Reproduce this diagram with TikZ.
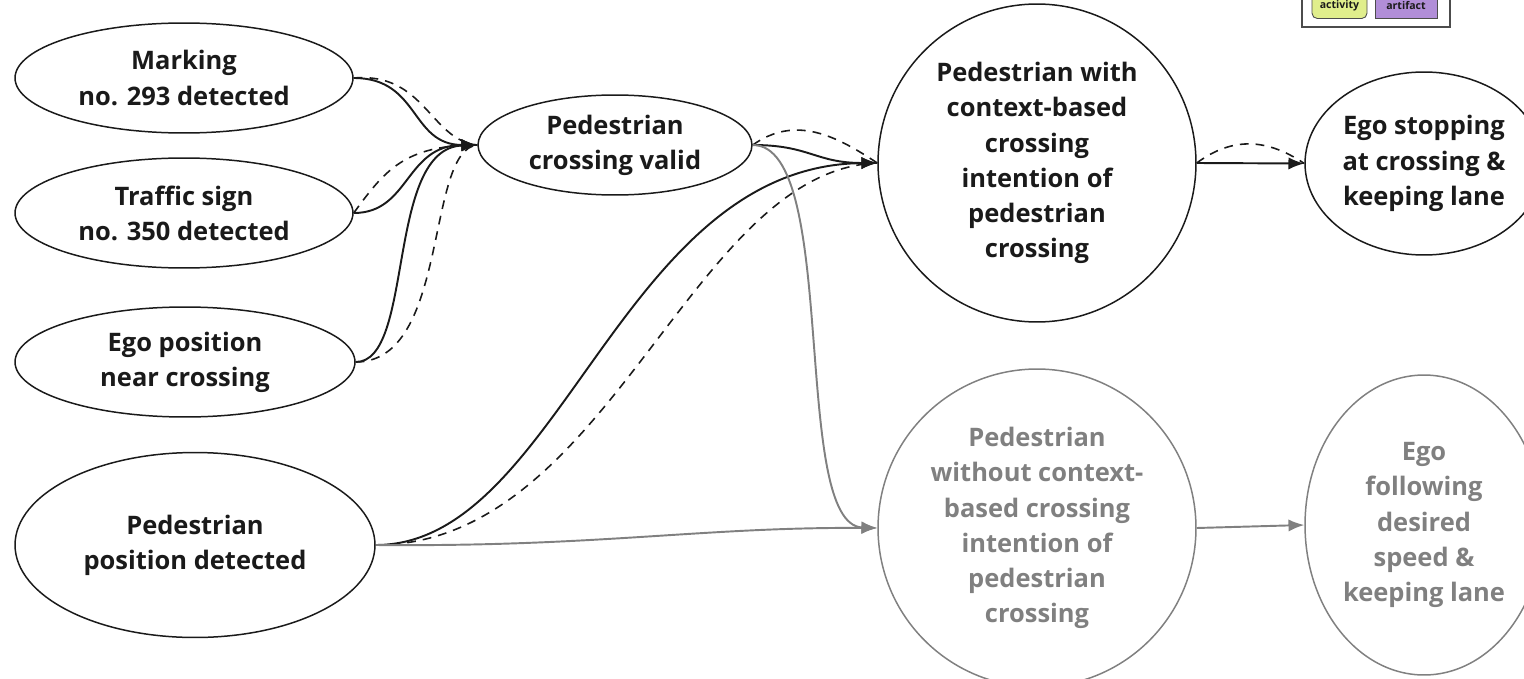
\documentclass[tikz,border=0pt]{standalone}
\usepackage{fontspec}
\setmainfont{Open Sans}
\usetikzlibrary{shapes.geometric,arrows.meta,positioning,calc}
\definecolor{inkcolor}{RGB}{26,26,26}
\definecolor{greycolor}{RGB}{128,128,128}
\definecolor{activitycolor}{RGB}{224,238,140}
\definecolor{artifactcolor}{RGB}{177,142,216}

\tikzset{
  state/.style={ellipse, draw=inkcolor, line width=0.85pt, inner sep=0pt,
    align=center, text=inkcolor, font=\fontsize{14.5}{20}\selectfont\bfseries},
  greystate/.style={state, draw=greycolor, text=greycolor},
  link/.style={draw=inkcolor, line width=1.1pt, -{Latex[length=9pt,width=7pt]}},
  dashlink/.style={draw=inkcolor, line width=0.9pt, dashed, dash pattern=on 5pt off 4pt},
  greylink/.style={draw=greycolor, line width=1.1pt, -{Latex[length=9pt,width=7pt]}},
  legendbox/.style={draw=black!70, line width=0.5pt, inner sep=0pt,
    font=\fontsize{6}{7}\selectfont\bfseries, text=inkcolor}
}

\begin{document}
\begin{tikzpicture}[x=0.02cm, y=-0.02cm]
\useasboundingbox (0,0) rectangle (1524,679);

% ================= LEGEND =================
\draw[draw=black!70, line width=0.9pt, fill=white] (1302,-10) rectangle (1450,27);
\node[legendbox, fill=activitycolor, rounded corners=3pt, minimum width=1.1cm,
  minimum height=0.5cm] (activity) at (1339.5,6) {activity};
\node[legendbox, fill=artifactcolor, minimum width=1.24cm,
  minimum height=0.5cm] (artifact) at (1406,6) {artifact};

% ================= LEFT: OBSERVATIONS =================
\node[state, minimum width=6.76cm, minimum height=2.2cm] (marking) at (184,78)
  {Marking\\no. 293 detected};
\node[state, minimum width=6.76cm, minimum height=2.2cm] (sign) at (184,213)
  {Traffic sign\\no. 350 detected};
\node[state, minimum width=6.8cm, minimum height=2.2cm] (egopos) at (185,362)
  {Ego position\\near crossing};
\node[state, minimum width=7.2cm, minimum height=3.7cm] (pedpos) at (195,545)
  {Pedestrian\\position detected};

% ================= MIDDLE =================
\node[state, minimum width=5.48cm, minimum height=2.0cm] (valid) at (615,145)
  {Pedestrian\\crossing valid};
\node[state, circle, minimum size=6.36cm] (withctx) at (1037,163)
  {Pedestrian with\\context-based\\crossing\\intention of\\pedestrian\\crossing};
\node[greystate, circle, minimum size=6.36cm] (withoutctx) at (1037,528)
  {Pedestrian\\without context-\\based crossing\\intention of\\pedestrian\\crossing};

% ================= RIGHT: EGO BEHAVIOUR =================
\node[state, minimum width=4.76cm, minimum height=3.66cm] (stopping) at (1424,163.5)
  {Ego stopping\\at crossing \&\\keeping lane};
\node[greystate, minimum width=4.76cm, minimum height=6.0cm] (following) at (1424,525)
  {Ego\\following\\desired\\speed \&\\keeping lane};

% ================= CONNECTORS =================
\draw[link] (marking.east) .. controls (420,78) and (410,145) .. (valid.west);
\draw[dashlink] (marking.east) .. controls (425,72) and (430,140) .. (valid.west);
\draw[link] (sign.east) .. controls (410,213) and (405,145) .. (valid.west);
\draw[dashlink] (sign.east) .. controls (385,170) and (405,145) .. (valid.west);
\draw[link] (egopos.east) .. controls (415,362) and (385,148) .. (valid.west);
\draw[dashlink] (egopos.east) .. controls (450,362) and (425,150) .. (valid.west);

\draw[link] (valid.east) .. controls (810,145) and (815,163) .. (withctx.west);
\draw[dashlink] (valid.east) .. controls (795,115) and (835,135) .. (withctx.west);
\draw[link] (pedpos.east) .. controls (560,545) and (620,165) .. (withctx.west);
\draw[dashlink] (pedpos.east) .. controls (610,545) and (690,170) .. (withctx.west);

\draw[greylink] (valid.east) .. controls (840,145) and (790,525) .. (withoutctx.west);
\draw[greylink] (pedpos.east) .. controls (600,547) and (700,527) .. (withoutctx.west);

\draw[link] (withctx.east) -- (stopping.west);
\draw[dashlink] (withctx.east) .. controls (1228,140) and (1262,135) .. (stopping.west);
\draw[greylink] (withoutctx.east) -- (following.west);

\end{tikzpicture}
\end{document}
